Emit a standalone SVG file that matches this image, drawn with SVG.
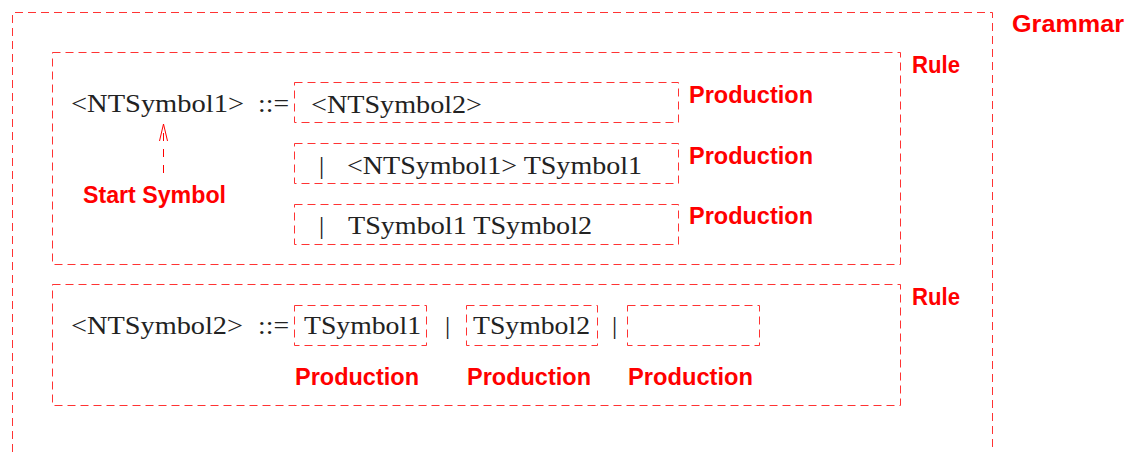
<svg xmlns="http://www.w3.org/2000/svg" width="1130" height="452" viewBox="0 0 1130 452">
<style>
.box{fill:none;stroke:#ff3333;stroke-width:1;stroke-dasharray:8 5;}
.t{font-family:"Liberation Serif",serif;font-size:26px;fill:#222;}
.lbl{font-family:"Liberation Sans",Arial,sans-serif;font-weight:bold;font-size:23px;fill:#ff0000;}
</style>
<defs>
<marker id="open" viewBox="0 0 17 10" refX="17" refY="5" markerWidth="17" markerHeight="10" markerUnits="userSpaceOnUse" orient="auto">
<path d="M0,1 L17,5 L0,9" fill="none" stroke="#ff0000" stroke-width="1"/>
</marker>
</defs>
<rect width="1130" height="452" fill="#fff"/>
<g id="grammar">
<path class="box" d="M992.5,460 V12.5 H12.5 V460"/>
<text class="lbl" x="1012" y="32" textLength="112" lengthAdjust="spacingAndGlyphs">Grammar</text>
</g>
<g id="rule1">
<rect class="box" x="52.5" y="52.5" width="848" height="212"/>
<text class="lbl" x="912" y="73" textLength="48" lengthAdjust="spacingAndGlyphs">Rule</text>
<text class="t" x="71" y="112" textLength="173" lengthAdjust="spacingAndGlyphs">&lt;NTSymbol1&gt;</text>
<text class="t" x="258" y="112" textLength="31" lengthAdjust="spacingAndGlyphs">::=</text>
</g>
<g id="prod1">
<rect class="box" x="294.5" y="82.5" width="384" height="40"/>
<text class="t" x="311" y="113" textLength="171" lengthAdjust="spacingAndGlyphs">&lt;NTSymbol2&gt;</text>
<text class="lbl" x="689" y="103" textLength="124" lengthAdjust="spacingAndGlyphs">Production</text>
</g>
<g id="prod2">
<rect class="box" x="294.5" y="143.5" width="384" height="40"/>
<text class="t" x="319" y="174">|</text>
<text class="t" x="347" y="174" textLength="295" lengthAdjust="spacingAndGlyphs">&lt;NTSymbol1&gt; TSymbol1</text>
<text class="lbl" x="689" y="164" textLength="124" lengthAdjust="spacingAndGlyphs">Production</text>
</g>
<g id="prod3">
<rect class="box" x="294.5" y="204.5" width="384" height="40"/>
<text class="t" x="319" y="234">|</text>
<text class="t" x="348" y="234" textLength="244" lengthAdjust="spacingAndGlyphs">TSymbol1 TSymbol2</text>
<text class="lbl" x="689" y="224" textLength="124" lengthAdjust="spacingAndGlyphs">Production</text>
</g>
<g id="start">
<text class="lbl" x="83" y="203" textLength="143" lengthAdjust="spacingAndGlyphs">Start Symbol</text>
</g>
<g id="rule2">
<rect class="box" x="52.5" y="284.5" width="848" height="121"/>
<text class="lbl" x="912" y="305" textLength="48" lengthAdjust="spacingAndGlyphs">Rule</text>
<text class="t" x="71" y="334" textLength="172" lengthAdjust="spacingAndGlyphs">&lt;NTSymbol2&gt;</text>
<text class="t" x="258" y="334" textLength="31" lengthAdjust="spacingAndGlyphs">::=</text>
<text class="t" x="445" y="334">|</text>
<text class="t" x="612" y="334">|</text>
</g>
<g id="prod4">
<rect class="box" x="294.5" y="305.5" width="132" height="40"/>
<text class="t" x="304" y="334" textLength="117" lengthAdjust="spacingAndGlyphs">TSymbol1</text>
<text class="lbl" x="295" y="385" textLength="124" lengthAdjust="spacingAndGlyphs">Production</text>
</g>
<g id="prod5">
<rect class="box" x="466.5" y="305.5" width="131" height="40"/>
<text class="t" x="473" y="334" textLength="117" lengthAdjust="spacingAndGlyphs">TSymbol2</text>
<text class="lbl" x="467" y="385" textLength="124" lengthAdjust="spacingAndGlyphs">Production</text>
</g>
<g id="prod6">
<rect class="box" x="627.5" y="305.5" width="132" height="40"/>
<text class="lbl" x="628" y="385" textLength="125" lengthAdjust="spacingAndGlyphs">Production</text>
</g>
<g id="connectors">
<line x1="163.5" y1="173" x2="163.5" y2="124" stroke="#ff0000" stroke-width="1" stroke-dasharray="8 8" marker-end="url(#open)"/>
</g>
</svg>
